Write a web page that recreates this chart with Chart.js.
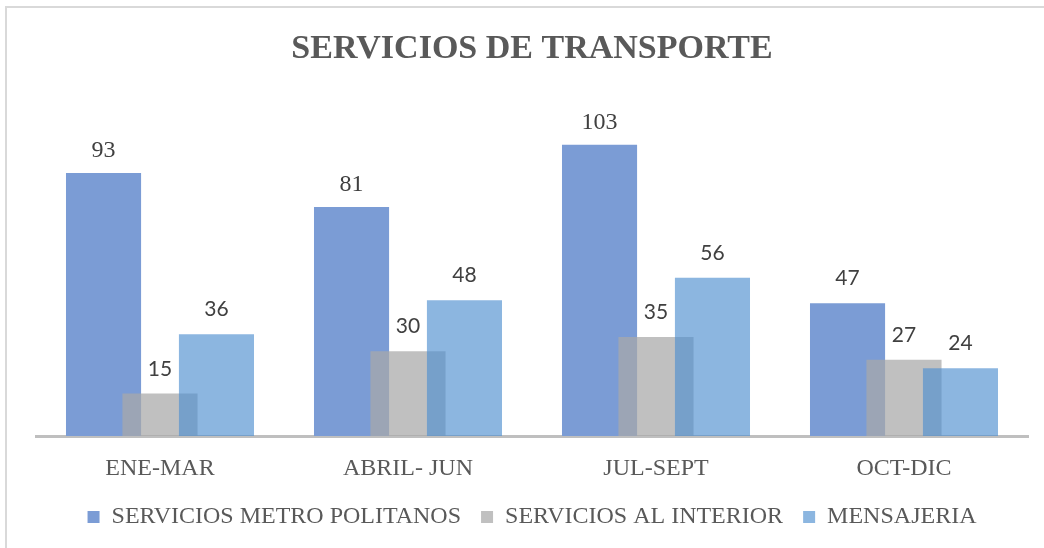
<!DOCTYPE html>
<html>
<head>
<meta charset="utf-8">
<script src="https://cdn.jsdelivr.net/npm/chart.js@4/dist/chart.umd.min.js"></script>
<style>
    html, body { margin: 0; padding: 0; background: #fff; }
    #frame { position: absolute; left: 5px; top: 6px; width: 1100px; height: 600px; border: 2px solid #d9d9d9; }
    #wrap { position: absolute; left: 0; top: 0; width: 1044px; height: 548px; }
</style>
</head>
<body>
<div id="frame"></div>
<div id="wrap"><canvas id="chart" width="1044" height="548"></canvas></div>
<script>
const categories = ['ENE-MAR', 'ABRIL- JUN', 'JUL-SEPT', 'OCT-DIC'];
const seriesNames = ['SERVICIOS METRO POLITANOS', 'SERVICIOS AL INTERIOR', 'MENSAJERIA'];
const metroValues = [93, 81, 103, 47];
const interiorValues = [15, 30, 35, 27];
const mensajeriaValues = [36, 48, 56, 24];

// the source mixes fonts on the value labels
const serifLabel = [[true, true, true, false], [false, false, false, false], [false, false, false, false]];

const SERIF = '"Liberation Serif", "Times New Roman", serif';
const SANS = 'Lato, "Liberation Sans", sans-serif';

// draw series in their own order so later bars sit on top
const drawInOrder = {
    id: 'drawInOrder',
    beforeDatasetsDraw(chart) {
        for (let i = 0; i < chart.data.datasets.length; i++) {
            const meta = chart.getDatasetMeta(i);
            if (meta.hidden) continue;
            meta.controller.draw();
        }
        return false;
    }
};

const valueLabels = {
    id: 'valueLabels',
    afterDraw(chart) {
        const ctx = chart.ctx;
        ctx.save();
        ctx.fillStyle = '#404040';
        ctx.textAlign = 'center';
        ctx.textBaseline = 'alphabetic';
        chart.data.datasets.forEach((ds, i) => {
            const meta = chart.getDatasetMeta(i);
            meta.data.forEach((bar, j) => {
                const serif = serifLabel[i][j];
                ctx.font = serif ? '24px ' + SERIF : '21px ' + SANS;
                ctx.fillText(String(ds.data[j]), bar.x, bar.y - (serif ? 16 : 18));
            });
        });
        ctx.restore();
    }
};

new Chart(document.getElementById('chart').getContext('2d'), {
    type: 'bar',
    data: {
        labels: categories,
        datasets: [
            { label: seriesNames[0], data: metroValues, backgroundColor: 'rgb(123,156,213)' },
            { label: seriesNames[1], data: interiorValues, backgroundColor: 'rgba(168,168,168,0.73)' },
            { label: seriesNames[2], data: mensajeriaValues, backgroundColor: 'rgba(78,143,208,0.65)' }
        ]
    },
    options: {
        responsive: false,
        animation: false,
        devicePixelRatio: 1,
        categoryPercentage: 0.683,
        barPercentage: 1.33,
        layout: { padding: { top: 8, left: 36, right: 16, bottom: 9 } },
        scales: {
            x: {
                grid: { display: false, drawTicks: false },
                border: { display: true, color: '#bfbfbf', width: 3 },
                ticks: { color: '#595959', font: { family: SERIF, size: 24 }, padding: 18 },
                afterFit(scale) { scale.height = 49; }
            },
            y: {
                display: false,
                min: 0,
                max: 120
            }
        },
        plugins: {
            title: {
                display: true,
                text: 'SERVICIOS DE TRANSPORTE',
                color: '#595959',
                font: { family: SERIF, size: 34, weight: 'bold' },
                padding: { top: 21, bottom: 27 }
            },
            legend: {
                position: 'bottom',
                labels: {
                    color: '#595959',
                    font: { family: SERIF, size: 24 },
                    boxWidth: 12,
                    boxHeight: 12,
                    padding: 20
                }
            },
            tooltip: { enabled: false }
        }
    },
    plugins: [drawInOrder, valueLabels]
});
</script>
</body>
</html>
